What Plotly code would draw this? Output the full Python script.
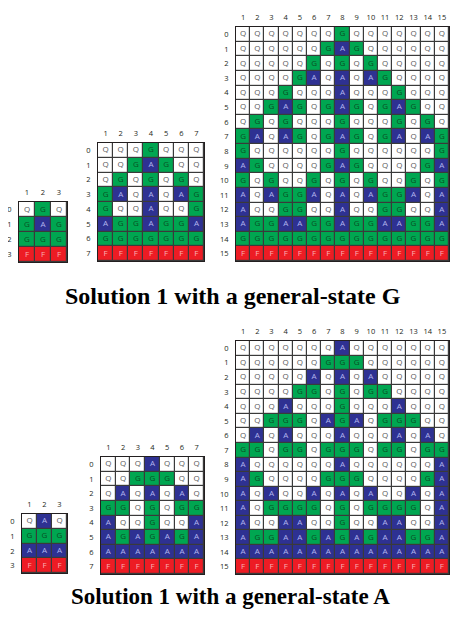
import plotly.graph_objects as go

# ---- data: cell states per row (Q quiescent, G general, A, F fire) ----
g_small = ["QGQ", "GAG", "GGG", "FFF"]
g_medium = ["QQQGQQQ", "QQGAGQQ", "QGQGQGQ", "GAQAQAG", "GQQAQQG",
            "AGGAGGA", "GGGGGGG", "FFFFFFF"]
g_large = [
    "QQQQQQQGQQQQQQQ",
    "QQQQQQGAGQQQQQQ",
    "QQQQQGQGQGQQQQQ",
    "QQQQGAQAQAGQQQQ",
    "QQQGQQQAQQQGQQQ",
    "QQGAGQGAGQGAGQQ",
    "QGQGQQQGQQQGQGQ",
    "GAQAGQGAGQGAQAG",
    "GQQQQQQGQQQQQQG",
    "AGQQQQGAGQQQQGA",
    "GQGQQGQGQGQQGQG",
    "AQAGGAQAQAGGAQA",
    "AQQGGQQAQQGGQQA",
    "AGGAAGGAGGAAGGA",
    "GGGGGGGGGGGGGGG",
    "FFFFFFFFFFFFFFF",
]
a_small = ["QAQ", "GGG", "AAA", "FFF"]
a_medium = ["QQQAQQQ", "QQGGGQQ", "QAQAQAQ", "GGQGQGG", "AQQGQQA",
            "AGAGAGA", "AAAAAAA", "FFFFFFF"]
a_large = [
    "QQQQQQQAQQQQQQQ",
    "QQQQQQGGGQQQQQQ",
    "QQQQQAQAQAQQQQQ",
    "QQQQGGQGQGGQQQQ",
    "QQQAQQQGQQQAQQQ",
    "QQGGGQAGAQGGGQQ",
    "QAQAQQQAQQQAQAQ",
    "GGQGGQGGGQGGQGG",
    "AQQQQQQAQQQQQQA",
    "AGQQQQGGGQQQQGA",
    "AQAQQAQAQAQQAQA",
    "AQGGGGQGQGGGGQA",
    "AQQAAQQGQQAAQQA",
    "AGGAAGAGAGAAGGA",
    "AAAAAAAAAAAAAAA",
    "FFFFFFFFFFFFFFF",
]
titles = ["Solution 1 with a general-state G", "Solution 1 with a general-state A"]

OFF = 8  # page body margin
W, H = 458 - 2 * OFF, 618 - 2 * OFF
state_code = {"Q": 0, "G": 1, "A": 2, "F": 3}
letter_color = {"Q": "#58595b", "G": "#0a4f24", "A": "#b3b5ee", "F": "#f8b0b2"}
c_white, c_green, c_blue, c_red = "#ffffff", "#00a651", "#2e3192", "#ed1c24"
colorscale = [[0, c_white], [1/6, c_white], [1/6, c_green], [0.5, c_green],
              [0.5, c_blue], [5/6, c_blue], [5/6, c_red], [1, c_red]]

def px_dom_x(a, b):
    return [max(0, (a - OFF) / W), min(1, (b - OFF) / W)]

def px_dom_y(top, bottom):
    return [max(0, 1 - (bottom - OFF) / H), min(1, 1 - (top - OFF) / H)]

def px_x(a):
    return (a - OFF) / W

def px_y(b):
    return 1 - (b - OFF) / H

grids = [
    (g_small, px_dom_x(19, 67), px_dom_y(202, 262)),
    (g_medium, px_dom_x(98, 204), px_dom_y(143, 261)),
    (g_large, px_dom_x(236, 449), px_dom_y(27, 261)),
    (a_small, px_dom_x(22, 67), px_dom_y(514, 573)),
    (a_medium, px_dom_x(101, 204), px_dom_y(457, 574)),
    (a_large, px_dom_x(236, 449), px_dom_y(341, 574)),
]

fig = go.Figure()
layout = {}
for i, (rows, xd, yd) in enumerate(grids):
    n = i + 1
    xa = "x" if n == 1 else f"x{n}"
    ya = "y" if n == 1 else f"y{n}"
    ncols, nrows = len(rows[0]), len(rows)
    cols = list(range(1, ncols + 1))
    rids = list(range(nrows))
    z = [[state_code[c] for c in r] for r in rows]
    fig.add_trace(go.Heatmap(x=cols, y=rids, z=z, zmin=0, zmax=3,
                             colorscale=colorscale, showscale=False,
                             xgap=1.2, ygap=1.2, hoverinfo="skip",
                             xaxis=xa, yaxis=ya))
    tx, ty, tt, tc = [], [], [], []
    for r, row in enumerate(rows):
        for c, ch in enumerate(row):
            tx.append(c + 1)
            ty.append(r)
            tt.append(ch)
            tc.append(letter_color[ch])
    fig.add_trace(go.Scatter(x=tx, y=ty, text=tt, mode="text",
                             textfont=dict(family="Open Sans", size=8, color=tc),
                             hoverinfo="skip", showlegend=False,
                             xaxis=xa, yaxis=ya))
    layout["xaxis" if n == 1 else f"xaxis{n}"] = dict(
        domain=xd, anchor=ya, range=[0.5, ncols + 0.5], side="top",
        tickmode="array", tickvals=cols, ticks="outside", ticklen=3,
        tickcolor="rgba(0,0,0,0)", showgrid=False, zeroline=False,
        showline=True, mirror=True, linecolor="#231f20", linewidth=1,
        tickfont=dict(family="Open Sans", size=7.5, color="#231f20"),
        fixedrange=True)
    layout["yaxis" if n == 1 else f"yaxis{n}"] = dict(
        domain=yd, anchor=xa, range=[nrows - 0.5, -0.5],
        tickmode="array", tickvals=rids, ticks="outside", ticklen=5,
        tickcolor="rgba(0,0,0,0)", showgrid=False, zeroline=False,
        showline=True, mirror=True, linecolor="#231f20", linewidth=1,
        tickfont=dict(family="Open Sans", size=7.5, color="#231f20"),
        fixedrange=True)

annotations = [
    dict(text="<b>" + titles[0] + "</b>", x=px_x(233), y=px_y(296),
         xref="paper", yref="paper", showarrow=False,
         xanchor="center", yanchor="middle",
         font=dict(family="Liberation Serif", size=24, color="#000000")),
    dict(text="<b>" + titles[1] + "</b>", x=px_x(230), y=0,
         xref="paper", yref="paper", showarrow=False,
         xanchor="center", yanchor="bottom", yshift=-1,
         font=dict(family="Liberation Serif", size=23, color="#000000")),
]

fig.update_layout(width=W, height=H, margin=dict(l=0, r=0, t=0, b=0),
                  paper_bgcolor="white", plot_bgcolor="#3a3a3a",
                  showlegend=False, annotations=annotations, **layout)
fig.write_html("out.html")
